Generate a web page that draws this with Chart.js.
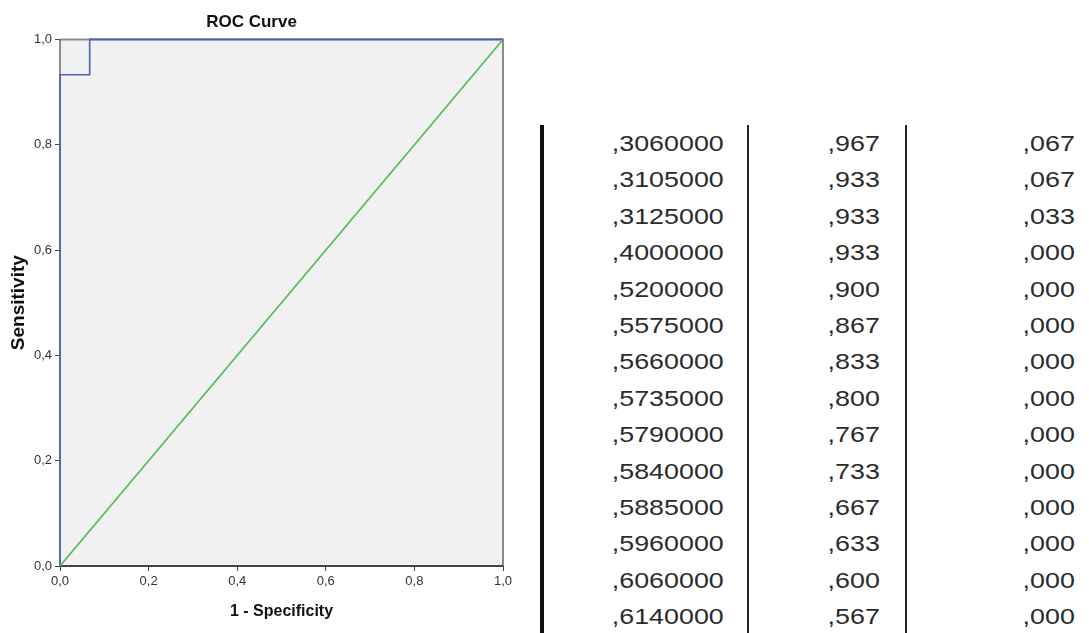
<!DOCTYPE html>
<html>
<head>
<meta charset="utf-8">
<script src="https://cdn.jsdelivr.net/npm/chart.js@4.4.1/dist/chart.umd.min.js"></script>
<style>
  html, body { margin: 0; padding: 0; background: #ffffff; }
  body { width: 1089px; height: 633px; position: relative; overflow: hidden; }
  #chartBox { position: absolute; left: 0; top: 0; width: 530px; height: 633px; }
  .vline { position: absolute; top: 125px; bottom: 0; background: #222; }
  .cell { position: absolute; font-family: 'Liberation Sans', Arial, sans-serif; font-size: 22px;
          color: #2b2b2b; line-height: 26px; height: 26px; white-space: nowrap;
          transform: scaleX(1.22); transform-origin: right center; }
</style>
</head>
<body>
<div id="chartBox"><canvas id="roc"></canvas></div>
<div id="table"></div>
<script>
// ROC curve points (1 - Specificity, Sensitivity)
const rocFPR = [0, 0, 0.067, 0.067, 1];
const rocTPR = [0, 0.933, 0.933, 1, 1];
// Reference (chance) line
const refFPR = [0, 1];
const refTPR = [0, 1];
// Axis tick values
const tickValues = [0, 0.2, 0.4, 0.6, 0.8, 1.0];

// Table columns (coordinates of the curve)
const thresholds = [",3060000", ",3105000", ",3125000", ",4000000", ",5200000", ",5575000", ",5660000",
                    ",5735000", ",5790000", ",5840000", ",5885000", ",5960000", ",6060000", ",6140000"];
const sensitivity = [",967", ",933", ",933", ",933", ",900", ",867", ",833",
                     ",800", ",767", ",733", ",667", ",633", ",600", ",567"];
const oneMinusSpec = [",067", ",067", ",033", ",000", ",000", ",000", ",000",
                      ",000", ",000", ",000", ",000", ",000", ",000", ",000"];

const sans = "'Liberation Sans', Arial, sans-serif";

const toPts = (xs, ys) => xs.map((x, i) => ({ x: x, y: ys[i] }));
const fmt = v => (Math.round(v * 10) / 10).toFixed(1).replace('.', ',');

const framePlugin = {
  id: 'frame',
  beforeDatasetsDraw(chart) {
    const { ctx, chartArea: a } = chart;
    ctx.save();
    ctx.fillStyle = '#f0f1f0';
    ctx.fillRect(a.left, a.top, a.right - a.left, a.bottom - a.top);
    ctx.strokeStyle = '#8a8a8a';
    ctx.lineWidth = 2;
    ctx.beginPath();
    ctx.moveTo(a.left, a.top);
    ctx.lineTo(a.right, a.top);
    ctx.lineTo(a.right, a.bottom);
    ctx.stroke();
    ctx.strokeStyle = '#6a6a6a';
    ctx.lineWidth = 1.5;
    ctx.beginPath();
    ctx.moveTo(a.left, a.top);
    ctx.lineTo(a.left, a.bottom);
    ctx.stroke();
    ctx.strokeStyle = '#444444';
    ctx.lineWidth = 2;
    ctx.beginPath();
    ctx.moveTo(a.left, a.bottom);
    ctx.lineTo(a.right, a.bottom);
    ctx.stroke();
    ctx.restore();
  }
};

new Chart(document.getElementById('roc'), {
  type: 'line',
  data: {
    datasets: [
      { label: 'Reference Line', data: toPts(refFPR, refTPR), borderColor: '#4cbb52', borderWidth: 1.6,
        pointRadius: 0, tension: 0, clip: 4 },
      { label: 'ROC', data: toPts(rocFPR, rocTPR), borderColor: '#4a62ae', borderWidth: 1.6,
        pointRadius: 0, tension: 0, clip: 4 }
    ]
  },
  options: {
    responsive: true,
    maintainAspectRatio: false,
    animation: false,
    events: [],
    layout: { padding: { left: 0, right: 27, top: 0, bottom: 0 } },
    plugins: {
      legend: { display: false },
      tooltip: { enabled: false },
      title: { display: true, text: 'ROC Curve', color: '#111',
               font: { family: sans, size: 17, weight: 'bold' }, padding: { top: 12, bottom: 7 } }
    },
    scales: {
      x: {
        type: 'linear', min: 0, max: 1,
        afterBuildTicks: s => { s.ticks = tickValues.map(v => ({ value: v })); },
        afterFit: s => { s.height = 67; },
        ticks: { callback: v => fmt(v), color: '#333', font: { family: sans, size: 13 }, padding: 3, maxRotation: 0 },
        grid: { display: true, drawOnChartArea: false, drawTicks: true, tickLength: 5, color: '#444', lineWidth: 1 },
        border: { display: false },
        title: { display: true, text: '1 - Specificity', color: '#111',
                 font: { family: sans, size: 16, weight: 'bold' }, padding: { top: 0, bottom: 12 } }
      },
      y: {
        type: 'linear', min: 0, max: 1,
        afterBuildTicks: s => { s.ticks = tickValues.map(v => ({ value: v })); },
        afterFit: s => { s.width = 60; },
        ticks: { callback: v => fmt(v), color: '#333', font: { family: sans, size: 13 }, padding: 3 },
        grid: { display: true, drawOnChartArea: false, drawTicks: true, tickLength: 5, color: '#444', lineWidth: 1 },
        border: { display: false },
        title: { display: true, text: 'Sensitivity', color: '#111',
                 font: { family: sans, size: 19, weight: 'bold' }, padding: { top: 7, bottom: 0 } }
      }
    }
  },
  plugins: [framePlugin]
});

// Table on the right
const tbl = document.getElementById('table');
const lines = [ { x: 540, w: 4 }, { x: 747, w: 2 }, { x: 905, w: 2 } ];
lines.forEach(l => {
  const d = document.createElement('div');
  d.className = 'vline';
  d.style.left = l.x + 'px';
  d.style.width = l.w + 'px';
  if (l.w > 2) d.style.background = '#111';
  tbl.appendChild(d);
});
const colRight = [724, 880, 1075];
const cols = [thresholds, sensitivity, oneMinusSpec];
const rowTop = 144, rowStep = 36.4;
cols.forEach((col, c) => {
  col.forEach((txt, r) => {
    const d = document.createElement('div');
    d.className = 'cell';
    d.textContent = txt;
    d.style.right = (1089 - colRight[c]) + 'px';
    d.style.top = (rowTop + r * rowStep - 13) + 'px';
    tbl.appendChild(d);
  });
});
</script>
</body>
</html>
